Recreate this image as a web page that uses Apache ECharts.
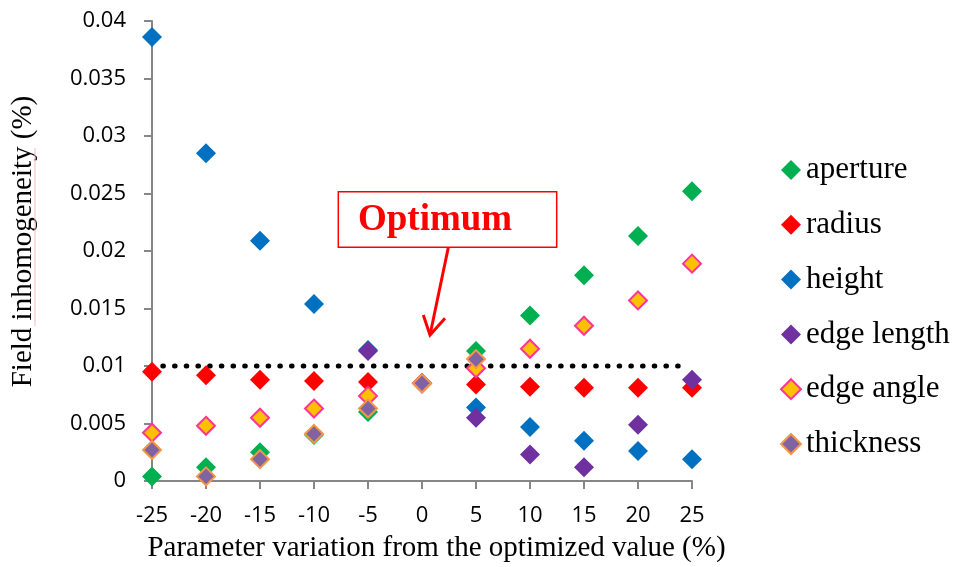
<!DOCTYPE html>
<html>
<head>
<meta charset="utf-8">
<script src="https://cdn.jsdelivr.net/npm/echarts@6/dist/echarts.min.js"></script>
<style>
  html, body { margin: 0; padding: 0; background: #ffffff; }
  #chart { width: 960px; height: 567px; }
</style>
</head>
<body>
<div id="chart"></div>
<script>
// ---- data ----
const xValues = [-25, -20, -15, -10, -5, 0, 5, 10, 15, 20, 25];
const xTickLabels = ['-25', '-20', '-15', '-10', '-5', '0', '5', '10', '15', '20', '25'];
const yTickLabels = ['0', '0.005', '0.01', '0.015', '0.02', '0.025', '0.03', '0.035', '0.04'];
const seriesNames = ['aperture', 'radius', 'height', 'edge length', 'edge angle', 'thickness'];
const aperture   = [0.0004, 0.0012, 0.0025, 0.0040, 0.0060, 0.0085, 0.0113, 0.0144, 0.0179, 0.0213, 0.0252];
const radius     = [0.0095, 0.0092, 0.0088, 0.0087, 0.0086, 0.0085, 0.0084, 0.0082, 0.0081, 0.0081, 0.0081];
const heightVals = [0.0386, 0.0285, 0.0209, 0.0154, 0.0114, 0.0085, 0.0064, 0.0047, 0.0035, 0.0026, 0.0019];
const edgeLength = [null, null, null, null, 0.0113, 0.0085, 0.0055, 0.0023, 0.0012, 0.0049, 0.0088];
const edgeAngle  = [0.0042, 0.0048, 0.0055, 0.0063, 0.0074, 0.0085, 0.0098, 0.0115, 0.0135, 0.0157, 0.0189];
const thickness  = [0.0027, 0.0004, 0.0019, 0.0041, 0.0063, 0.0085, 0.0106, null, null, null, null];
const optimumLevel = 0.01;
const optimumSpan = [-24, 24];
const annotationText = 'Optimum';
const xTitle = 'Parameter variation from the optimized value (%)';
const yTitle = 'Field inhomogeneity (%)';

// ---- styles ----
const seriesValues = [aperture, radius, heightVals, edgeLength, edgeAngle, thickness];
const fills   = ['#00B050', '#FF0000', '#0070C0', '#7030A0', '#FFC000', '#8064A2'];
const borders = [null, null, null, null, '#FF3399', '#F79646'];

function pairs(vals) {
  const out = [];
  vals.forEach((v, i) => { if (v !== null) out.push([xValues[i], v]); });
  return out;
}

const axisGray = '#868686';
const serif = '"Liberation Serif", "Times New Roman", serif';
const sans = '"Open Sans", "Liberation Sans", sans-serif';

const series = [{
  name: 'optimum level',
  type: 'line',
  silent: true,
  symbol: 'none',
  z: 1,
  data: optimumSpan.map(x => [x, optimumLevel]),
  lineStyle: { color: '#000000', width: 5, type: [0.6, 11.1], cap: 'round' },
  emphasis: { disabled: true }
}].concat(seriesNames.map((name, k) => ({
  name: name,
  type: 'scatter',
  symbol: 'diamond',
  symbolSize: borders[k] ? 18 : 20,
  clip: false,
  z: 3,
  data: pairs(seriesValues[k]),
  itemStyle: borders[k]
    ? { color: fills[k], borderColor: borders[k], borderWidth: 2, opacity: 1 }
    : { color: fills[k], borderWidth: 0, opacity: 1 },
  emphasis: { disabled: true }
})));

const staticGraphics = [
  {
    type: 'text', x: 436.5, y: 548,
    style: { text: xTitle, font: '29px ' + serif, fill: '#000000', align: 'center', verticalAlign: 'middle' }
  },
  {
    type: 'text', x: 23.5, y: 241.5, rotation: Math.PI / 2,
    style: { text: yTitle, font: '29px ' + serif, fill: '#000000', align: 'center', verticalAlign: 'middle' }
  },
  {
    type: 'line', shape: { x1: 35, y1: 148, x2: 35, y2: 326 },
    style: { stroke: '#f3b7c4', lineWidth: 1 }, z: 1
  },
  {
    type: 'rect', shape: { x: 338.3, y: 191.7, width: 218.4, height: 55.6 },
    style: { fill: '#ffffff', stroke: '#FF0000', lineWidth: 1.5 }, z: 10
  },
  {
    type: 'text', x: 358, y: 220.5,
    style: { text: annotationText, font: 'bold 37px ' + serif, fill: '#FF0000', align: 'left', verticalAlign: 'middle' }, z: 11
  },
  {
    type: 'polyline', shape: { points: [[448.3, 247.5], [430, 335]] },
    style: { stroke: '#FF0000', lineWidth: 3, fill: null }, z: 11
  },
  {
    type: 'polyline', shape: { points: [[423.3, 315], [430, 335], [445, 318.3]] },
    style: { stroke: '#FF0000', lineWidth: 3, fill: null, lineJoin: 'miter' }, z: 11
  }
];

const chart = echarts.init(document.getElementById('chart'), null, { renderer: 'canvas' });
chart.setOption({
  animation: false,
  backgroundColor: '#ffffff',
  grid: { left: 152, right: 268, top: 21, bottom: 86, outerBoundsMode: 'none' },
  xAxis: {
    type: 'value',
    min: -25, max: 25, interval: 5,
    axisLine: { show: true, onZero: false, lineStyle: { color: axisGray, width: 2, type: 'solid' } },
    axisTick: { show: true, length: 8, lineStyle: { color: axisGray, width: 2, type: 'solid' } },
    splitLine: { show: false },
    axisLabel: {
      margin: 24, fontSize: 22, fontFamily: sans, color: '#000000',
      formatter: v => xTickLabels[xValues.indexOf(Math.round(v))] ?? String(v)
    }
  },
  yAxis: {
    type: 'value',
    min: 0, max: 0.04, interval: 0.005,
    axisLine: { show: true, onZero: false, lineStyle: { color: axisGray, width: 2, type: 'solid' } },
    axisTick: { show: true, length: 8, lineStyle: { color: axisGray, width: 2, type: 'solid' } },
    splitLine: { show: false },
    axisLabel: {
      margin: 26, fontSize: 22, fontFamily: sans, color: '#000000',
      formatter: v => yTickLabels[Math.round(v / 0.005)] ?? String(v)
    }
  },
  legend: {
    orient: 'vertical',
    left: 775, top: 149,
    itemWidth: 20, itemHeight: 20,
    itemGap: 22.8,
    selectedMode: false,
    textStyle: { fontSize: 31, fontFamily: serif, color: '#000000', lineHeight: 32 },
    data: seriesNames
  },
  series: series,
  graphic: staticGraphics
});

// Reinforce the horizontal axis line and its ticks, placed through the axis scale.
const p0 = chart.convertToPixel({ gridIndex: 0 }, [xValues[0], 0]);
const p1 = chart.convertToPixel({ gridIndex: 0 }, [xValues[xValues.length - 1], 0]);
const axisGraphics = [{
  type: 'line', z: 2,
  shape: { x1: p0[0], y1: p0[1], x2: p1[0], y2: p1[1] },
  style: { stroke: axisGray, lineWidth: 2 }
}].concat(xValues.map(x => {
  const p = chart.convertToPixel({ gridIndex: 0 }, [x, 0]);
  return { type: 'line', z: 2, shape: { x1: p[0], y1: p[1], x2: p[0], y2: p[1] + 8 }, style: { stroke: axisGray, lineWidth: 2 } };
}));
chart.setOption({ graphic: staticGraphics.concat(axisGraphics) });
</script>
</body>
</html>
